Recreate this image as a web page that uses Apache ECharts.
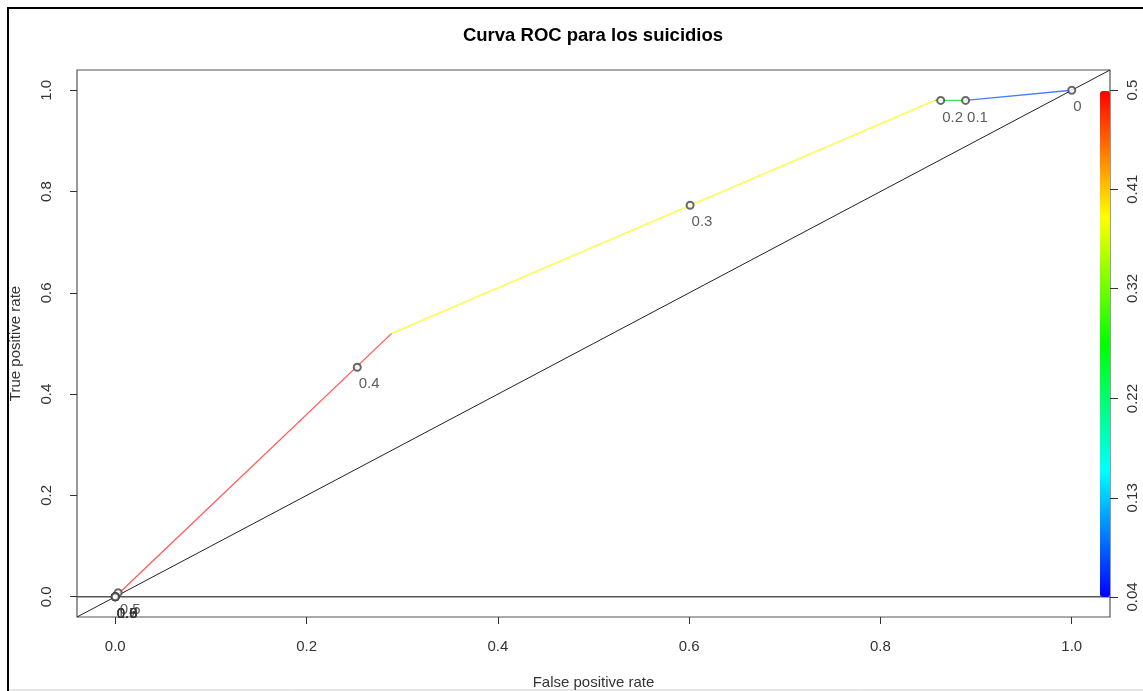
<!DOCTYPE html>
<html>
<head>
<meta charset="utf-8">
<script src="https://cdn.jsdelivr.net/npm/echarts@6/dist/echarts.min.js"></script>
<style>
  html, body { margin: 0; padding: 0; background: #fff; }
  #chart { width: 1143px; height: 691px; }
</style>
</head>
<body>
<div id="chart"></div>
<script>
// ROC curve vertices (false positive rate / true positive rate)
const rocFpr = [0, 0.289, 0.857, 0.889, 1];
const rocTpr = [0, 0.520, 0.980, 0.980, 1];
// colour of each segment (cutoff colouring)
const segColors = ["#ff5a5a", "#ffff33", "#3fe066", "#4a7cff"];

// printed cutoffs
const cutLabels = ["0", "0.1", "0.2", "0.3", "0.4", "0.5", "0.6", "0.7", "0.8", "0.9", "1.0"];
const cutFpr = [1, 0.889, 0.863, 0.601, 0.253, 0.003, 0, 0, 0, 0, 0];
const cutTpr = [1, 0.980, 0.980, 0.773, 0.453, 0.008, 0, 0, 0, 0, 0];

// axis ticks
const axisTicks = [0, 0.2, 0.4, 0.6, 0.8, 1.0];
const cbTicks = [0.04, 0.13, 0.22, 0.32, 0.41, 0.5];
const cbRange = [0.04, 0.5];

// reference lines
const diagLine = [[-0.04, -0.04], [1.04, 1.04]];
const zeroLine = [[-0.04, 0], [1.04, 0]];

const FONT = "'Liberation Sans', Arial, sans-serif";

let chart = echarts.init(document.getElementById("chart"));

// one line series per coloured segment
let segSeries = [];
for (let i = 0; i < rocFpr.length - 1; i++) {
  segSeries.push({
    type: "line",
    xAxisIndex: 0,
    yAxisIndex: 0,
    symbol: "none",
    silent: true,
    lineStyle: { color: segColors[i], width: 1.3 },
    data: [[rocFpr[i], rocTpr[i]], [rocFpr[i + 1], rocTpr[i + 1]]],
    z: 3
  });
}

chart.setOption({
  animation: false,
  textStyle: { fontFamily: FONT },
  title: {
    text: "Curva ROC para los suicidios",
    left: 588,
    top: 21,
    textAlign: "center",
    textStyle: { fontSize: 18.5, fontWeight: "bold", color: "#000", fontFamily: FONT }
  },
  grid: [
    {
      left: 77, right: 33, top: 70, bottom: 74,
      outerBoundsMode: "none",
      show: true,
      borderColor: "#555",
      borderWidth: 1.2
    },
    // colour bar axis
    { left: 1100, width: 10, top: 90, height: 507, outerBoundsMode: "none" }
  ],
  xAxis: [
    {
      type: "value",
      gridIndex: 0,
      min: -0.04,
      max: 1.04,
      name: "False positive rate",
      nameLocation: "middle",
      nameGap: 58,
      nameTextStyle: { fontSize: 15, color: "#333" },
      axisLine: { show: false, onZero: false },
      splitLine: { show: false },
      axisTick: {
        show: true, length: 7, inside: false,
        customValues: axisTicks,
        lineStyle: { color: "#333", width: 1 }
      },
      axisLabel: {
        customValues: axisTicks,
        margin: 22,
        fontSize: 15,
        color: "#333",
        formatter: v => v.toFixed(1)
      }
    },
    {
      type: "category",
      gridIndex: 1,
      data: ["cb"],
      show: false
    }
  ],
  yAxis: [
    {
      type: "value",
      gridIndex: 0,
      min: -0.04,
      max: 1.04,
      name: "True positive rate",
      nameLocation: "middle",
      nameGap: 54,
      nameTextStyle: { fontSize: 15, color: "#333" },
      axisLine: { show: false, onZero: false },
      splitLine: { show: false },
      axisTick: {
        show: true, length: 7, inside: false,
        customValues: axisTicks,
        lineStyle: { color: "#333", width: 1 }
      },
      axisLabel: {
        customValues: axisTicks,
        rotate: 90,
        margin: 23,
        fontSize: 15,
        color: "#333",
        formatter: v => v.toFixed(1)
      }
    },
    {
      type: "value",
      gridIndex: 1,
      position: "right",
      min: cbRange[0],
      max: cbRange[1],
      axisLine: { show: false, onZero: false },
      splitLine: { show: false },
      axisTick: {
        show: true, length: 8,
        customValues: cbTicks,
        lineStyle: { color: "#333", width: 1 }
      },
      axisLabel: {
        customValues: cbTicks,
        rotate: 90,
        margin: 15,
        fontSize: 15,
        color: "#333",
        formatter: v => String(v)
      }
    }
  ],
  visualMap: {
    type: "continuous",
    seriesIndex: 0,
    min: cbRange[0],
    max: cbRange[1],
    orient: "vertical",
    left: 1100,
    top: 91,
    itemWidth: 10,
    itemHeight: 506,
    padding: 0,
    calculable: false,
    showLabel: false,
    text: null,
    inRange: { color: ["#0000ff", "#00ffff", "#00ff00", "#ffff00", "#ff0000"] }
  },
  graphic: [
    {
      type: "rect",
      shape: { x: 8, y: 8, width: 1200, height: 720 },
      style: { fill: null, stroke: "#000", lineWidth: 2 },
      silent: true
    },
    {
      type: "line",
      shape: { x1: 9, y1: 690, x2: 1143, y2: 690 },
      style: { stroke: "#ccc", lineWidth: 1 },
      silent: true
    }
  ],
  series: [
    // dummy series carrying the colour bar (visualMap) on its own axis
    {
      type: "scatter",
      xAxisIndex: 1,
      yAxisIndex: 1,
      data: []
    },
    {
      type: "line",
      xAxisIndex: 0,
      yAxisIndex: 0,
      symbol: "none",
      silent: true,
      lineStyle: { color: "#222", width: 1 },
      data: diagLine,
      z: 2
    },
    {
      type: "line",
      xAxisIndex: 0,
      yAxisIndex: 0,
      symbol: "none",
      silent: true,
      lineStyle: { color: "#555", width: 1.4 },
      data: zeroLine,
      z: 2
    },
    ...segSeries,
    {
      type: "scatter",
      xAxisIndex: 0,
      yAxisIndex: 0,
      symbol: "emptyCircle",
      symbolSize: 7,
      itemStyle: { color: "#444", borderColor: "#444", borderWidth: 0.8 },
      label: {
        show: true,
        position: [6, 14],
        fontSize: 15,
        color: "#333",
        formatter: p => p.name
      },
      data: cutLabels.map((lab, i) => ({ name: lab, value: [cutFpr[i], cutTpr[i]] })),
      z: 5
    }
  ]
});
</script>
</body>
</html>
